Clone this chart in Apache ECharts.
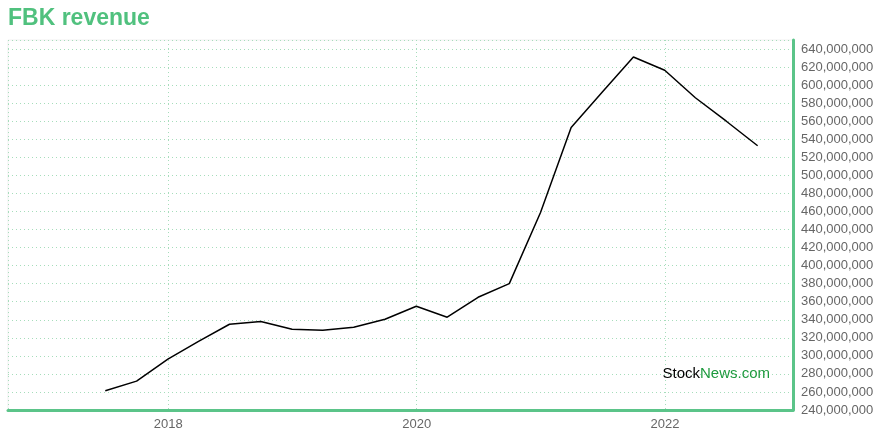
<!DOCTYPE html>
<html>
<head>
<meta charset="utf-8">
<script src="https://cdn.jsdelivr.net/npm/echarts@6/dist/echarts.min.js"></script>
<style>html,body{margin:0;padding:0;background:#fff}#c{width:880px;height:440px}</style>
</head>
<body>
<div id="c"></div>
<script>
const titleText = 'FBK revenue';
const dates = ['2017-06-30','2017-09-30','2017-12-31','2018-03-31','2018-06-30','2018-09-30','2018-12-31','2019-03-31','2019-06-30','2019-09-30','2019-12-31','2020-03-31','2020-06-30','2020-09-30','2020-12-31','2021-03-31','2021-06-30','2021-09-30','2021-12-31','2022-03-31','2022-06-30','2022-09-30'];
const revenueMillions = [261.3,272,296.4,316,335,338,329.5,328.4,331.7,340.6,355,342.8,364.9,380,458.8,553,592,631.2,616.5,586,560,532.8];
const yMin = 240e6, yMax = 650e6, yStep = 20e6;
const xMinYear = 2016.71, xMaxYear = 2023.03;

function decYear(s){
  const [y,m,d] = s.split('-').map(Number);
  const t = Date.UTC(y,m-1,d), a = Date.UTC(y,0,1), b = Date.UTC(y+1,0,1);
  return y + (t-a)/(b-a);
}
const seriesData = dates.map((d,i)=>[decYear(d), revenueMillions[i]*1e6]);

const green = '#5bc489';
const gridGreen = '#a6ddbb';
const font = 'Liberation Sans, Arial, sans-serif';
const chart = echarts.init(document.getElementById('c'), null, {renderer:'canvas'});
chart.setOption({
  animation:false,
  backgroundColor:'#fff',
  title:{text:titleText,left:8,top:7,padding:0,textStyle:{color:'#50c17e',fontSize:23,fontWeight:'bold',fontFamily:font}},
  grid:{left:8,right:87,top:40,bottom:30,show:true,borderColor:'#f0f0f0',borderWidth:1,backgroundColor:'transparent'},
  xAxis:{type:'value',min:xMinYear,max:xMaxYear,minInterval:2,maxInterval:2,
    axisLine:{show:true,lineStyle:{color:green,width:3}},
    axisTick:{show:false},
    axisLabel:{showMinLabel:false,showMaxLabel:false,color:'#666',fontSize:13,margin:8,fontFamily:font,formatter:v=>String(Math.round(v))},
    splitLine:{show:true,lineStyle:{color:gridGreen,type:[1,3],width:1}}},
  yAxis:{type:'value',position:'right',min:yMin,max:yMax,interval:yStep,
    axisLine:{show:true,lineStyle:{color:green,width:3}},
    axisTick:{show:false},
    axisLabel:{showMaxLabel:false,color:'#666',fontSize:13,margin:8,fontFamily:font,
      formatter:v=>Math.round(v).toLocaleString('en-US')},
    splitLine:{show:true,lineStyle:{color:gridGreen,type:[1,3],width:1}}},
  graphic:[{type:'text',right:110,bottom:59,style:{text:'{a|Stock}{b|News.com}',rich:{a:{fill:'#000',fontSize:15,fontFamily:font},b:{fill:'#1e9a3e',fontSize:15,fontFamily:font}}},z:100}],
  series:[{type:'line',data:seriesData,showSymbol:false,symbol:'none',lineStyle:{color:'#000',width:1.5},itemStyle:{color:'#000'}}]
});
</script>
</body>
</html>
